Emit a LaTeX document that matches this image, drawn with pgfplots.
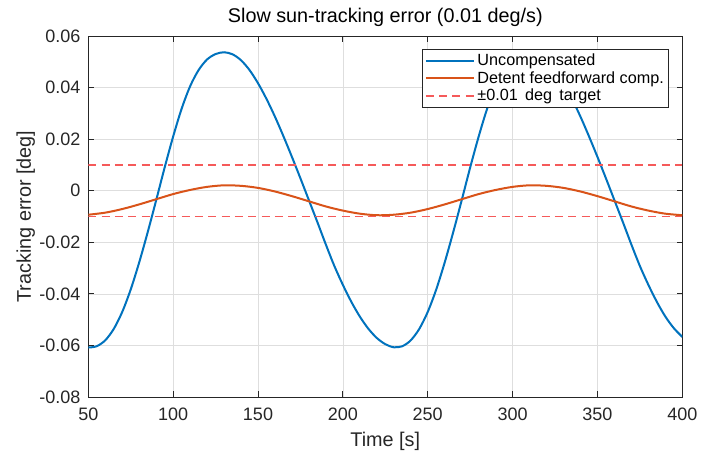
\documentclass[border=0pt]{standalone}
\usepackage{fontspec}
\setmainfont{Liberation Sans}
\usepackage{pgfplots}
\pgfplotsset{compat=1.18}
\definecolor{mblue}{RGB}{0,114,189}
\definecolor{morange}{RGB}{217,83,25}
\definecolor{mred}{RGB}{245,90,90}
\definecolor{axgray}{RGB}{38,38,38}
\begin{document}
\begin{tikzpicture}
\begin{axis}[
  scale only axis, width=445.5pt, height=270.75pt,
  xmin=50, xmax=400, ymin=-0.08, ymax=0.06,
  xtick={50,100,150,200,250,300,350,400},
  xticklabels={50,100,150,200,250,300,350,400},
  ytick={-0.08,-0.06,-0.04,-0.02,0,0.02,0.04,0.06},
  yticklabels={-0.08,-0.06,-0.04,-0.02,0,0.02,0.04,0.06},
  scaled y ticks=false, scaled x ticks=false,
  /pgf/number format/assume math mode=true,
  tick align=inside, major tick length=4.3pt,
  grid=major, major grid style={draw=black!13, line width=0.5pt},
  axis line style={draw=axgray, line width=0.6pt},
  every tick/.style={draw=axgray, line width=0.6pt},
  tick label style={font=\fontsize{13.5}{16}\selectfont, text=axgray},
  xticklabel style={inner sep=0pt, anchor=north, yshift=-8.25pt},
  yticklabel style={inner sep=0pt, anchor=east, xshift=-5.7pt},
  title={Slow sun-tracking error (0.01 deg/s)},
  title style={at={(axis description cs:0.5,1)}, anchor=base, yshift=4pt, inner sep=0pt, font=\fontsize{14.85}{17}\selectfont},
  xlabel={Time [s]},
  xlabel style={at={(axis description cs:0.5,0)}, anchor=base, yshift=-36.75pt, inner sep=0pt, font=\fontsize{14.85}{17}\selectfont, text=axgray},
  ylabel={Tracking error [deg]},
  ylabel style={at={(axis description cs:-0.0965,0.5)}, anchor=base, inner sep=0pt, font=\fontsize{14.85}{17}\selectfont, text=axgray},
  legend style={at={(axis description cs:0.978,0.964)}, anchor=north east, draw=axgray, line width=0.6pt, fill=white,
    inner xsep=1.75pt, inner ysep=2.9pt, row sep=1.9pt, font=\fontsize{12.15}{14}\selectfont,
    nodes={inner xsep=2pt, inner ysep=0.5pt}},
  legend cell align=left,
  legend image code/.code={\draw[#1] (0pt,0pt) -- (36pt,0pt);},
]
\addplot[mblue, line width=1.5pt, smooth] coordinates {
(50,-0.0608)(55,-0.0603)(60,-0.0580)(65,-0.0536)(70,-0.0470)(75,-0.0383)(80,-0.0278)(85,-0.0161)(90,-0.0037)(95,0.0090)(100,0.0210)(105,0.0318)(110,0.0405)(115,0.0468)(120,0.0509)(125,0.0530)(130,0.0537)(135,0.0529)(140,0.0506)(145,0.0468)(150,0.0417)(155,0.0356)(160,0.0287)(165,0.0211)(170,0.0131)(175,0.0048)(180,-0.0037)(185,-0.0122)(190,-0.0209)(195,-0.0292)(200,-0.0365)(205,-0.0431)(210,-0.0488)(215,-0.0535)(220,-0.0571)(225,-0.0595)(230,-0.0607)(235,-0.0603)(240,-0.0580)(245,-0.0536)(250,-0.0470)(255,-0.0383)(260,-0.0278)(265,-0.0161)(270,-0.0037)(275,0.0090)(280,0.0210)(285,0.0318)(290,0.0405)(295,0.0468)(300,0.0509)(305,0.0530)(310,0.0537)(315,0.0529)(320,0.0506)(325,0.0468)(330,0.0417)(335,0.0356)(340,0.0287)(345,0.0211)(350,0.0131)(355,0.0048)(360,-0.0037)(365,-0.0122)(370,-0.0209)(375,-0.0292)(380,-0.0365)(385,-0.0431)(390,-0.0488)(395,-0.0533)(400,-0.0567)
};
\addlegendentry{Uncompensated}
\addplot[morange, line width=1.5pt, smooth] coordinates {
(50,-0.0093)(60,-0.0085)(70,-0.0071)(80,-0.0053)(90,-0.0033)(100,-0.0013)(110,0.0003)(120,0.0015)(130,0.0021)(140,0.0019)(150,0.0011)(160,-0.0003)(170,-0.0021)(180,-0.0041)(190,-0.0061)(200,-0.0077)(210,-0.0089)(220,-0.0095)(230,-0.0093)(240,-0.0085)(250,-0.0071)(260,-0.0053)(270,-0.0033)(280,-0.0013)(290,0.0003)(300,0.0015)(310,0.0021)(320,0.0019)(330,0.0011)(340,-0.0003)(350,-0.0021)(360,-0.0041)(370,-0.0061)(380,-0.0077)(390,-0.0089)(400,-0.0095)
};
\addlegendentry{Detent feedforward comp.}
\addplot[mred, line width=1.1pt, dash pattern=on 6pt off 4pt] coordinates {(50,0.01)(400,0.01)};
\addlegendentry{±0.01\hspace{0.45em}deg\hspace{0.45em}target}
\addplot[mred, line width=1.1pt, dash pattern=on 6pt off 4pt, forget plot] coordinates {(50,-0.01)(400,-0.01)};
\coordinate (bl) at (rel axis cs:0,0);
\coordinate (tr) at (rel axis cs:1,1);
\end{axis}
\pgfresetboundingbox
\path[use as bounding box] ([xshift=-66.2pt,yshift=-50.25pt]bl) rectangle ([xshift=23pt,yshift=27pt]tr);
\end{tikzpicture}
\end{document}
